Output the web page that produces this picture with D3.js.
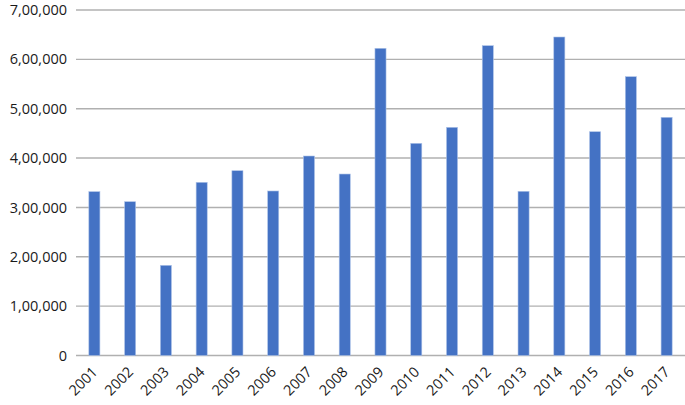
<!DOCTYPE html>
<html><head><meta charset="utf-8">
<script src="https://cdn.jsdelivr.net/npm/d3@7"></script>
<style>body{margin:0;background:#fff}</style>
</head><body>
<svg id="c" width="685" height="405"></svg>
<script>
const years = ["2001","2002","2003","2004","2005","2006","2007","2008","2009","2010","2011","2012","2013","2014","2015","2016","2017"];
const values = [332000,311600,182700,350900,374400,333300,404200,367700,622400,429900,462300,627700,332700,645300,453400,564900,482600];
const yTicks = [0,100000,200000,300000,400000,500000,600000,700000];

const svg = d3.select("#c");
const x = d3.scaleBand().domain(years).range([76.5,684.5]).paddingInner(0.69).paddingOuter(0.345);
const y = d3.scaleLinear().domain([0,700000]).range([355.5,10]);
const fmt = v => v===0 ? "0" : d3.format(",")(v/100000|0).replace(/,/g,"") + "," + d3.format("02")(Math.floor(v/1000)%100) + ",000";

svg.append("g").selectAll("line").data(yTicks).join("line")
  .attr("x1",76).attr("x2",685).attr("y1",d=>y(d)).attr("y2",d=>y(d))
  .attr("stroke","#b0b0b0").attr("stroke-width",1.4);

svg.append("g").selectAll("text").data(yTicks).join("text")
  .attr("x",67).attr("y",d=>y(d)).attr("dy","0.35em").attr("text-anchor","end")
  .attr("font-family","Open Sans, sans-serif").attr("font-size",14.5).attr("fill","#1a1a1a")
  .text(fmt);

svg.append("g").selectAll("rect").data(values).join("rect")
  .attr("x",(d,i)=>x(years[i])).attr("width",x.bandwidth())
  .attr("y",d=>y(d)).attr("height",d=>y(0)-y(d))
  .attr("fill","#4472c4").attr("stroke","#aec3e8").attr("stroke-width",0.6);

svg.append("g").selectAll("text").data(years).join("text")
  .attr("text-anchor","end")
  .attr("transform",d=>`translate(${x(d)+x.bandwidth()/2+4},${373}) rotate(-45)`)
  .attr("font-family","Open Sans, sans-serif").attr("font-size",14.5).attr("fill","#1a1a1a")
  .text(d=>d);
</script>
</body></html>
